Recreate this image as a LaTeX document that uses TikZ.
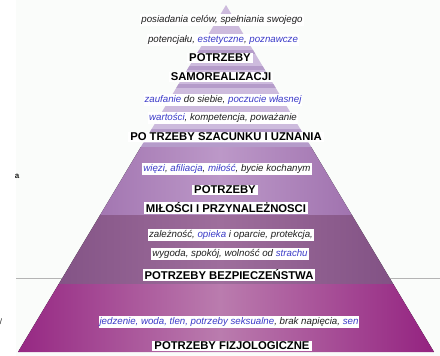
\documentclass[tikz,border=0pt]{standalone}
\usepackage{fontspec}
\setmainfont{Liberation Sans}
\definecolor{linkb}{HTML}{3B3BC8}
\definecolor{txtk}{HTML}{202020}
\definecolor{lav}{HTML}{CDBBDD}
\definecolor{lavd}{HTML}{AD92C4}
\definecolor{bgt}{HTML}{FAFCFA}
\definecolor{gline}{HTML}{B4B4B4}
\definecolor{bthree}{HTML}{8E5A9E}
\definecolor{bthreem}{HTML}{BC98C8}
\definecolor{bfour}{HTML}{7A4A7E}
\definecolor{bfourm}{HTML}{9E6E9C}
\definecolor{bfive}{HTML}{93207F}
\definecolor{bfivem}{HTML}{BA7CAE}
\newcommand{\bl}[1]{\textcolor{linkb}{#1}}
\begin{document}
\begin{tikzpicture}[x=1pt,y=-1pt,
  tx/.style={fill=white, inner xsep=1pt, inner ysep=1.2pt, text=txtk,
    font=\fontsize{9.7}{11}\selectfont\itshape},
  hd/.style={fill=white, inner xsep=2pt, inner ysep=1.2pt, text=black,
    font=\fontsize{11.3}{13}\selectfont\bfseries}]
\useasboundingbox (0,0) rectangle (440,356);
% background
\fill[white] (0,0) rectangle (440,356);
\fill[bgt] (16,0) rectangle (440,356);
\draw[gline, line width=0.8pt] (16,278) -- (440,278);
% pyramid
\begin{scope}
\clip (226,5) -- (434,352) -- (18,352) -- cycle;
\fill[lav] (0,0) rectangle (440,147);
\foreach \s in {18,34,50,66,84,99,114,129,143}{
  \fill[lavd, opacity=0.75] (0,\s) rectangle (440,\s+4);
}
\fill[left color=bthree, right color=bthree, middle color=bthreem] (0,147) rectangle (440,215);
\fill[left color=bfour, right color=bfour, middle color=bfourm] (0,215) rectangle (440,284);
\fill[left color=bfive, right color=bfive, middle color=bfivem] (0,284) rectangle (440,352);
\end{scope}
% texts
\node[tx] (l1) at (222,20) {posiadania celów, spełniania swojego};
\node[tx] (l2) at (223,40) {potencjału, \bl{estetyczne}, \bl{poznawcze}};
\node[hd] (h1) at (220,58) {POTRZEBY};
\node[hd] (h2) at (221,77) {SAMOREALIZACJI};
\node[tx] (l3) at (223,100) {\bl{zaufanie} do siebie, \bl{poczucie własnej}};
\node[tx] (l4) at (223,118) {\bl{wartości}, kompetencja, poważanie};
\node[hd] (h3) at (226,137) {PO TRZEBY SZACUNKU I UZNANIA};
\node[tx] (l5) at (227,169) {\bl{więzi}, \bl{afiliacja}, \bl{miłość}, bycie kochanym};
\node[hd] (h4) at (225,190) {POTRZEBY};
\node[hd] (h5) at (226,208) {MIŁOŚCI I PRZYNALEŻNOSCI};
\node[tx] (l6) at (231,235) {zależność, \bl{opieka} i oparcie, protekcja,};
\node[tx] (l7) at (230,254) {wygoda, spokój, wolność od \bl{strachu}};
\node[hd] (h6) at (229,275) {POTRZEBY BEZPIECZEŃSTWA};
\node[tx] (l8) at (229,322) {\bl{jedzenie, woda, tlen, potrzeby seksualne}, brak napięcia, \bl{sen}};
\node[hd] (h7) at (232,346) {POTRZEBY FIZJOLOGICZNE};
% cut-off fragments at left
\node[inner sep=0pt, font=\fontsize{8}{9}\selectfont\bfseries, text=txtk] (fa) at (17,176) {a};
\node[inner sep=0pt, font=\fontsize{8}{9}\selectfont, text=txtk] (fb) at (1,322) {/};
\end{tikzpicture}
\end{document}
